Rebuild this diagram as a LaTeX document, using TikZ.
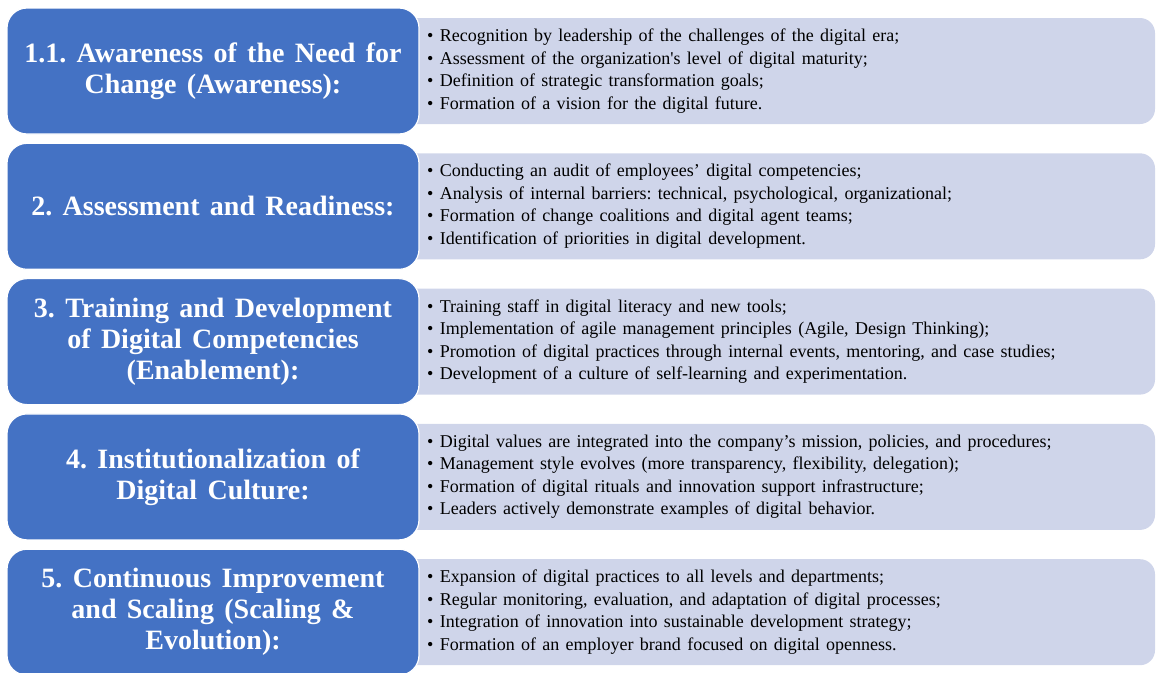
\documentclass[tikz,border=0pt]{standalone}
\usepackage{fontspec}
\setmainfont{Liberation Serif}
\usetikzlibrary{positioning}
\definecolor{stageblue}{HTML}{4472C4}
\definecolor{detailfill}{HTML}{CFD5EA}
\newcommand\stagefont{\fontsize{28}{31}\selectfont\bfseries\frenchspacing\spaceskip=0.37em\relax}
\newcommand\listfont{\fontsize{18}{22.5}\selectfont\frenchspacing\spaceskip=0.35em\relax}

\begin{document}
\begin{tikzpicture}[x=1pt, y=-1pt,
  stage/.style={draw=white, line width=1.2pt, fill=stageblue, rounded corners=20pt,
    minimum width=412pt, minimum height=126pt, text=white, align=center,
    font=\stagefont},
  detail/.style={fill=detailfill, rounded corners=15pt, minimum width=760pt, minimum height=106pt},
  bullets/.style={anchor=west, align=left, inner sep=0pt, font=\listfont}]

\useasboundingbox (0,0) rectangle (1156,672);

\foreach \i in {1,...,5}
  \node [detail] (detail-\i) at (775, 135.3*\i-64.3) {};

\foreach \t [count=\i] in {{1.1. Awareness of the Need for\\Change (Awareness):},
    {2. Assessment and Readiness:},
    {3. Training and Development\\of Digital Competencies\\(Enablement):},
    {4. Institutionalization of\\Digital Culture:},
    {5. Continuous Improvement\\and Scaling (Scaling \&\\Evolution):}}
  \node [stage] (stage-\i) at (213, 135.3*\i-64.3) {\t};

\foreach \l [count=\i] in {
    {\textbullet\ Recognition by leadership of the challenges of the digital era;\\
     \textbullet\ Assessment of the organization\textquotesingle s level of digital maturity;\\
     \textbullet\ Definition of strategic transformation goals;\\
     \textbullet\ Formation of a vision for the digital future.},
    {\textbullet\ Conducting an audit of employees’ digital competencies;\\
     \textbullet\ Analysis of internal barriers: technical, psychological, organizational;\\
     \textbullet\ Formation of change coalitions and digital agent teams;\\
     \textbullet\ Identification of priorities in digital development.},
    {\textbullet\ Training staff in digital literacy and new tools;\\
     \textbullet\ Implementation of agile management principles (Agile, Design Thinking);\\
     \textbullet\ Promotion of digital practices through internal events, mentoring, and case studies;\\
     \textbullet\ Development of a culture of self-learning and experimentation.},
    {\textbullet\ Digital values are integrated into the company’s mission, policies, and procedures;\\
     \textbullet\ Management style evolves (more transparency, flexibility, delegation);\\
     \textbullet\ Formation of digital rituals and innovation support infrastructure;\\
     \textbullet\ Leaders actively demonstrate examples of digital behavior.},
    {\textbullet\ Expansion of digital practices to all levels and departments;\\
     \textbullet\ Regular monitoring, evaluation, and adaptation of digital processes;\\
     \textbullet\ Integration of innovation into sustainable development strategy;\\
     \textbullet\ Formation of an employer brand focused on digital openness.}}
  \node [bullets] (list-\i) at (427, 135.3*\i-64.3) {\l};

\end{tikzpicture}
\end{document}
